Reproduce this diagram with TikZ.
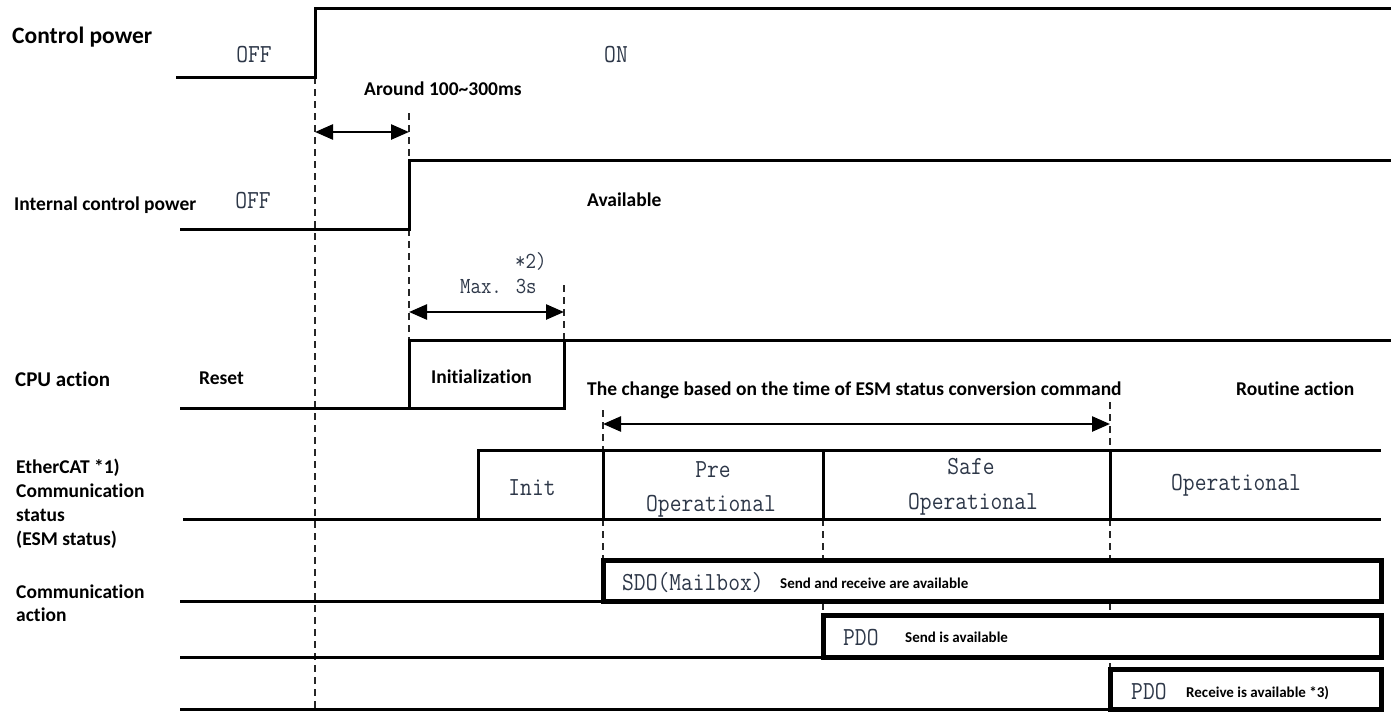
\documentclass[tikz,border=0pt]{standalone}
\usepackage{fontspec}
\setmainfont{Carlito}[Ligatures=NoCommon]
\newfontfamily\simfont[FakeStretch=0.88]{Latin Modern Mono}
\usetikzlibrary{arrows.meta}
\definecolor{inkgray}{RGB}{45,55,72}

\begin{document}
\begin{tikzpicture}[x=1pt,y=-1pt,
  wave/.style={line width=3pt},
  phase/.style={line width=5pt, fill=white},
  guide/.style={line width=1.6pt, dash pattern=on 7pt off 5pt, black!85},
  span/.style={line width=2.5pt,
    {Triangle[length=18pt,width=15pt]}-{Triangle[length=18pt,width=15pt]}},
  lbl/.style={font=\bfseries\fontsize{19.5}{23}\selectfont, inner sep=0pt},
  biglbl/.style={font=\bfseries\fontsize{23.5}{27}\selectfont, inner sep=0pt},
  note/.style={font=\bfseries\fontsize{15}{18}\selectfont, inner sep=0pt},
  sim/.style={font=\simfont\fontsize{26}{30}\selectfont, text=inkgray, inner sep=0pt},
  simsmall/.style={font=\simfont\fontsize{23}{27}\selectfont, text=inkgray, inner sep=0pt}
]
\useasboundingbox (0,0) rectangle (1391,712);

% dashed guides at the transition instants
\draw[guide] (315,77) -- (315,712);
\draw[guide] (409,113) -- (409,160);
\draw[guide] (409,229) -- (409,340);
\draw[guide] (564,285) -- (564,340);
\draw[guide] (603,410) -- (603,450);
\draw[guide] (603,519) -- (603,560);
\draw[guide] (823,519) -- (823,615);
\draw[guide] (1110,402) -- (1110,450);
\draw[guide] (1110,519) -- (1110,669);

% control power
\draw[wave] (176,77) -- (315,77) -- (315,8) -- (1391,8);
% internal control power
\draw[wave] (180,229) -- (409,229) -- (409,160) -- (1391,160);
% CPU action
\draw[wave] (180,408) -- (564,408) -- (564,340);
\draw[wave] (409,408) -- (409,340) -- (1391,340);
% EtherCAT ESM status
\draw[wave] (183,519) -- (1381,519);
\draw[wave] (478,519) -- (478,450) -- (1381,450);
\draw[wave] (603,450) -- (603,519);
\draw[wave] (823,450) -- (823,519);
\draw[wave] (1110,450) -- (1110,519);
% communication action
\draw[wave] (180,601) -- (603,601);
\draw[phase] (603,560) rectangle (1381,601);
\draw[wave] (180,657) -- (823,657);
\draw[phase] (823,615) rectangle (1381,657);
\draw[wave] (180,709) -- (1110,709);
\draw[phase] (1110,669) rectangle (1381,709);

% time spans
\coordinate (a1l) at (315,132); \coordinate (a1r) at (409,132);
\coordinate (a2l) at (409,312); \coordinate (a2r) at (564,312);
\coordinate (a3l) at (603,424); \coordinate (a3r) at (1110,424);
\draw[span] (a1l) -- (a1r);
\draw[span] (a2l) -- (a2r);
\draw[span] (a3l) -- (a3r);

% signal names
\node[biglbl, anchor=base west] (lblCtrl) at (12,43) {Control power};
\node[lbl, anchor=base west] (lblInt) at (14,210) {Internal control power};
\node[lbl, font=\bfseries\fontsize{21}{25}\selectfont, anchor=base west] (lblCpu) at (15,386) {CPU action};
\node[lbl, anchor=base west] (lblEsm1) at (16,473) {EtherCAT *1)};
\node[lbl, anchor=base west] (lblEsm2) at (16,497) {Communication};
\node[lbl, anchor=base west] (lblEsm3) at (16,521) {status};
\node[lbl, anchor=base west] (lblEsm4) at (16,545) {(ESM status)};
\node[lbl, anchor=base west] (lblCom1) at (16,598) {Communication};
\node[lbl, anchor=base west] (lblCom2) at (16,621) {action};

% states and notes
\node[sim, anchor=base] (offA) at (254,62) {OFF};
\node[sim, anchor=base] (onA) at (616,62) {ON};
\node[lbl, anchor=base west] (around) at (364,95) {Around 100\textasciitilde300ms};
\node[sim, anchor=base] (offB) at (253,208) {OFF};
\node[lbl, anchor=base west] (avail) at (587,206) {Available};
\node[simsmall, anchor=base west] (star2) at (515,268) {*2)};
\node[simsmall, anchor=base west] (max3) at (460,293) {Max. 3s};
\node[lbl, anchor=base west] (reset) at (199,384) {Reset};
\node[lbl, anchor=base west] (init) at (431,383) {Initialization};
\node[lbl, anchor=base west] (change) at (587,395) {The change based on the time of ESM status conversion command};
\node[lbl, anchor=base west] (routine) at (1236,395) {Routine action};
\node[sim, anchor=base] (initS) at (532,495) {Init};
\node[sim, anchor=base] (pre) at (713,477) {Pre};
\node[sim, anchor=base] (preOp) at (711,511) {Operational};
\node[sim, anchor=base] (safe) at (971,474) {Safe};
\node[sim, anchor=base] (safeOp) at (973,509) {Operational};
\node[sim, anchor=base] (op) at (1236,490) {Operational};
\node[sim, anchor=base west] (sdo) at (622,590) {SDO(Mailbox)};
\node[note, anchor=base west] (sdoNote) at (780,588) {Send and receive are available};
\node[sim, anchor=base west] (pdoA) at (843,645) {PDO};
\node[note, anchor=base west] (pdoANote) at (905,642) {Send is available};
\node[sim, anchor=base west] (pdoB) at (1131,699) {PDO};
\node[note, anchor=base west] (pdoBNote) at (1186,697) {Receive is available *3)};
\end{tikzpicture}
\end{document}
